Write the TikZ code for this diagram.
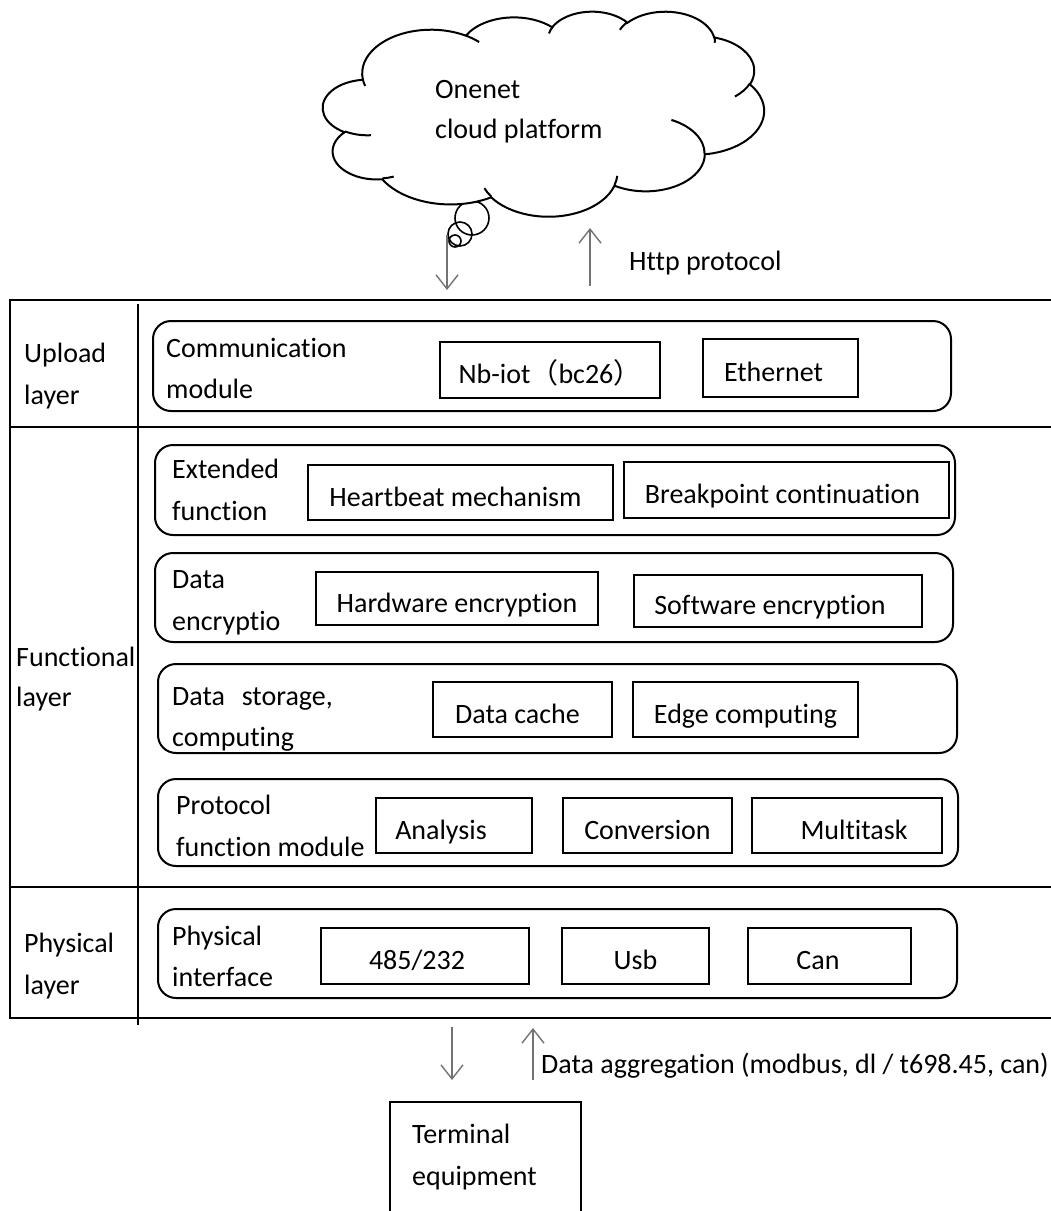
\documentclass[tikz,border=0pt]{standalone}
\usepackage{fontspec}
\setmainfont{Carlito}[Ligatures={NoCommon,NoContextual}]
\newfontfamily\cjk{Noto Sans CJK SC}
\usetikzlibrary{arrows.meta}

% elliptical arc given by radii and a start/sweep angle measured visually
% (angles converted to the parametric angles used by TikZ)
\newcommand\cldarc[4]{arc[start angle={atan2((#1)*sin(#3),(#2)*cos(#3))},
  delta angle={mod(atan2((#1)*sin((#3)+(#4)),(#2)*cos((#3)+(#4)))-atan2((#1)*sin(#3),(#2)*cos(#3))+720,360)},
  x radius=#1, y radius=#2]}

\begin{document}
\begin{tikzpicture}[x=1pt,y=-1pt,
  txt/.style={anchor=base west,inner sep=0pt,font=\fontsize{28}{42}\selectfont},
  rowbox/.style={draw,line width=2pt,rounded corners=18pt,inner sep=0pt},
  item/.style={draw,line width=1.2pt,inner sep=0pt,text height=30pt,text depth=3pt,
               font=\fontsize{28}{42}\selectfont},
  nudgeL/.style={execute at end node={\hspace*{#1}}},
  nudgeR/.style={execute at begin node={\hspace*{#1}}},
  divider/.style={line width=1.3pt},
  frame/.style={line width=2.6pt},
  flow/.style={draw=black!55,line width=1.4pt,-{Straight Barb[length=14pt,width=22pt,line width=1.4pt]}}]
\useasboundingbox (0,0) rectangle (1051,1211);

% thought bubbles
\draw[line width=1.6pt] (472,218) circle (17);
\draw[line width=1.6pt] (460,234) circle (12);
\draw[line width=1.6pt] (455,241) circle (6);

% cloud outline and its inner folds
\begin{scope}[shift={(323,11)},x=1.0208pt,y=-0.4745pt,line width=2pt]
  \draw[fill=white] (39.00,143.70)
    \cldarc{67.53}{91.90}{-190.4875}{123.7805}
    \cldarc{53.33}{72.67}{-144.1024}{89.9452}
    \cldarc{43.65}{59.45}{-145.8079}{99.7230}
    \cldarc{48.57}{65.95}{-130.9861}{117.2417}
    \cldarc{53.33}{72.73}{-78.7089}{109.0269}
    \cldarc{67.75}{92.20}{-46.2673}{130.2690}
    \cldarc{57.85}{78.67}{0.6250}{114.0333}
    \cldarc{67.52}{92.15}{22.4516}{115.1726}
    \cldarc{77.20}{105.43}{66.2426}{75.7110}
    \cldarc{43.60}{59.18}{-274.9421}{146.7356}
    \cldarc{43.45}{59.45}{-246.8285}{152.5188}
    -- cycle;
  \draw (46.93,261.77) \cldarc{43.45}{59.45}{86.7420}{26.4295};
  \draw (69.28,348.99) \cldarc{43.60}{59.18}{73.6105}{11.4475};
  \draw (164.78,390.90) \cldarc{67.52}{92.15}{137.6242}{14.0811};
  \draw (288.27,347.51) \cldarc{67.52}{92.15}{6.4533}{15.9984};
  \draw (341.29,229.54) \cldarc{57.85}{78.67}{-70.2924}{70.9174};
  \draw (417.98,153.54) \cldarc{53.33}{72.73}{30.3180}{27.7515};
  \draw (383.24,54.26) \cldarc{48.57}{65.95}{-13.7443}{14.8589};
  \draw (290.78,39.52) \cldarc{48.57}{65.95}{-149.1815}{18.1954};
  \draw (221.41,47.20) \cldarc{43.65}{59.45}{-163.4943}{17.6864};
  \draw (140.00,51.92) \cldarc{67.53}{91.90}{-66.7070}{12.3194};
  \draw (41.27,157.89) \cldarc{67.53}{91.90}{157.6544}{11.8582};
\end{scope}
\node[txt] (cloudA) at (435,98) {Onenet};
\node[txt] (cloudB) at (435,138) {cloud platform};

% outer frame and layer dividers
\draw[frame] (1052,300) -- (10,300) -- (10,1018) -- (1052,1018);
\draw[divider] (138,304) -- (138,1025);
\draw[divider] (10,427) -- (1052,427);
\draw[divider] (10,887) -- (1052,887);

% layer names
\node[txt] (upA) at (24,362) {Upload};
\node[txt] (upB) at (24,404) {layer};
\node[txt] (fnA) at (16,666) {Functional};
\node[txt] (fnB) at (16,706) {layer};
\node[txt] (phA) at (24,952) {Physical};
\node[txt] (phB) at (24,994) {layer};

% module rows
\node[rowbox,minimum width=798,minimum height=90] (rowUp)  at (552,366) {};
\node[rowbox,minimum width=800,minimum height=90] (rowExt) at (555,490) {};
\node[rowbox,minimum width=798,minimum height=89] (rowEnc) at (554,597.5) {};
\node[rowbox,minimum width=799,minimum height=89] (rowSto) at (557.5,708.5) {};
\node[rowbox,minimum width=800,minimum height=87] (rowPro) at (558,822.5) {};
\node[rowbox,minimum width=799,minimum height=89] (rowPhy) at (557.5,953.5) {};

% row titles
\node[txt] (tUpA)  at (166,357) {Communication};
\node[txt] (tUpB)  at (166,398) {module};
\node[txt] (tExA)  at (172,478) {Extended};
\node[txt] (tExB)  at (172,520) {function};
\node[txt] (tEnA)  at (172,588) {Data};
\node[txt] (tEnB)  at (172,630) {encryptio};
\node[txt] (tStA)  at (172,705) {Data\hspace{0.6em}storage,};
\node[txt] (tStB)  at (172,746) {computing};
\node[txt] (tPrA)  at (176,814) {Protocol};
\node[txt] (tPrB)  at (176,856) {function module};
\node[txt] (tPhA)  at (172,945) {Physical};
\node[txt] (tPhB)  at (172,986) {interface};

% items
\node[item,minimum width=220,minimum height=56] (nb)   at (550,370)   {Nb-iot{\cjk （}bc26{\cjk ）}};
\node[item,nudgeL=14pt,minimum width=155,minimum height=58] (eth)  at (780.5,368) {Ethernet};
\node[item,nudgeL=10pt,minimum width=305,minimum height=55] (hb)   at (460.5,492.5) {Heartbeat mechanism};
\node[item,nudgeL=8pt,minimum width=325,minimum height=56] (bp)   at (786.5,490) {Breakpoint continuation};
\node[item,minimum width=282,minimum height=53] (hw)   at (457,598.5) {Hardware encryption};
\node[item,nudgeL=16pt,minimum width=288,minimum height=52] (sw)   at (778,601)   {Software encryption};
\node[item,nudgeL=10pt,minimum width=179,minimum height=55] (dc)   at (522.5,709.5) {Data cache};
\node[item,minimum width=225,minimum height=55] (ec)   at (745.5,709.5) {Edge computing};
\node[item,nudgeL=26pt,minimum width=156,minimum height=55] (an)   at (454,825.5) {Analysis};
\node[item,minimum width=169,minimum height=55] (cv)   at (647.5,825.5) {Conversion};
\node[item,nudgeR=14pt,minimum width=190,minimum height=55] (mt)   at (847,825.5) {Multitask};
\node[item,nudgeL=16pt,minimum width=208,minimum height=56] (p485) at (425,956)   {485/232};
\node[item,minimum width=147,minimum height=56] (usb)  at (635.5,956) {Usb};
\node[item,nudgeL=23pt,minimum width=163,minimum height=56] (can)  at (829.5,956) {Can};

% links to the cloud
\coordinate (upDnS) at (447,235);
\coordinate (upDnE) at (447,290);
\coordinate (upUpS) at (590,286);
\coordinate (upUpE) at (590,228);
\draw[flow] (upDnS) -- (upDnE);
\draw[flow] (upUpS) -- (upUpE);
\node[txt] (http) at (629,270) {Http protocol};

% terminal equipment
\node[draw,line width=2.6pt,minimum width=191,minimum height=140,inner sep=0pt] (term) at (485.5,1172) {};
\node[txt] (tTeA) at (412,1143) {Terminal};
\node[txt] (tTeB) at (412,1185) {equipment};

% links to the terminal
\coordinate (loDnS) at (452,1027);
\coordinate (loDnE) at (452,1080);
\coordinate (loUpS) at (533,1080);
\coordinate (loUpE) at (533,1028);
\draw[flow] (loDnS) -- (loDnE);
\draw[flow] (loUpS) -- (loUpE);
\node[txt] (agg) at (541,1073) {Data aggregation (modbus, dl / t698.45, can)};
\end{tikzpicture}
\end{document}
